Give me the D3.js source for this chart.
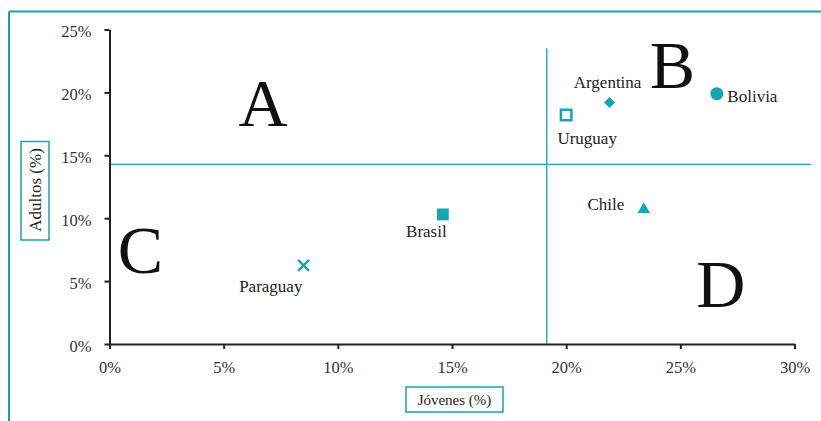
<!doctype html>
<html lang="es">
<head>
<meta charset="utf-8">
<title>Jóvenes y adultos</title>
<style>
  body { margin: 0; background: white; }
  svg { display: block; background: white; }
  svg text { font-family: "Liberation Serif", "Times New Roman", serif; }
  .axis path, .axis line { stroke: #222; stroke-width: 2px; fill: none; }
  .axis text { font-size: 16.5px; fill: #333; }
  .quad { stroke: #1aa3b0; stroke-width: 1.3px; }
  .lbl { font-size: 17px; fill: #222; }
  .big { font-size: 68px; fill: #111; text-anchor: middle; }
  .title-box { fill: none; stroke: #1aa3b0; stroke-width: 1.5px; }
  .title { fill: #222; text-anchor: middle; }
</style>
</head>
<body>
<script src="https://cdnjs.cloudflare.com/ajax/libs/d3/7.8.5/d3.min.js"></script>
<script>
// data
var countries = ["Argentina", "Bolivia", "Uruguay", "Chile", "Brasil", "Paraguay"];
var jovenes   = [21.9, 26.6, 20.0, 23.4, 14.6, 8.5];
var adultos   = [19.2, 19.9, 18.2, 10.7, 10.3, 6.25];
var shapes    = ["diamond", "circle", "hollow", "triangle", "square", "x"];
var xTicks = [0, 5, 10, 15, 20, 25, 30];
var yTicks = [0, 5, 10, 15, 20, 25];
var cutJovenes = 19.15;
var cutAdultos = 14.28;
var quadrants = ["A", "B", "C", "D"];
var quadX = [6.72, 24.65, 1.36, 26.77];
var quadY = [17.33, 20.33, 5.64, 2.97];

var W = 821, H = 421;
var teal = "#1aa3b0";
var serif = "'Liberation Serif', 'Times New Roman', serif";

var svg = d3.select("body").append("svg").attr("width", W).attr("height", H)
  .attr("font-family", serif);

// outer frame (top + left only)
svg.append("line").attr("x1", 9).attr("x2", W).attr("y1", 11.5).attr("y2", 11.5)
  .attr("stroke", teal).attr("stroke-width", 2);
svg.append("line").attr("x1", 9).attr("x2", 9).attr("y1", 11.5).attr("y2", H)
  .attr("stroke", teal).attr("stroke-width", 2);

var x = d3.scaleLinear().domain([0, 30]).range([109.5, 794.5]);
var y = d3.scaleLinear().domain([0, 25]).range([344, 29.5]);

// quadrant lines
svg.append("line").attr("class", "quad")
  .attr("x1", x(0)).attr("x2", x(30.73)).attr("y1", y(cutAdultos)).attr("y2", y(cutAdultos));
svg.append("line").attr("class", "quad")
  .attr("x1", x(cutJovenes)).attr("x2", x(cutJovenes)).attr("y1", y(23.5)).attr("y2", y(0));

// axes
var xAxis = d3.axisBottom(x).tickValues(xTicks).tickFormat(function(d){ return d + "%"; })
  .tickSizeOuter(0).tickSizeInner(5).tickPadding(12);
var yAxis = d3.axisLeft(y).tickValues(yTicks).tickFormat(function(d){ return d + "%"; })
  .tickSizeOuter(0).tickSizeInner(5).tickPadding(13);

svg.append("g").attr("class", "x axis").attr("transform", "translate(0," + y(0) + ")").call(xAxis)
  .attr("font-family", serif).attr("font-size", null);
svg.append("g").attr("class", "y axis").attr("transform", "translate(" + x(0) + ",0)").call(yAxis)
  .attr("font-family", serif).attr("font-size", null);
svg.selectAll(".y.axis text").attr("dy", "0.45em");

// big letters
svg.selectAll("text.big").data(quadrants).enter().append("text")
  .attr("class", "big")
  .attr("x", function(d, i){ return x(quadX[i]); })
  .attr("y", function(d, i){ return y(quadY[i]); })
  .text(function(d){ return d; });

// markers
var pts = countries.map(function(c, i){
  return { name: c, jov: jovenes[i], adu: adultos[i], shape: shapes[i] };
});

var g = svg.selectAll("g.pt").data(pts).enter().append("g")
  .attr("class", "pt")
  .attr("transform", function(d){ return "translate(" + x(d.jov) + "," + y(d.adu) + ")"; });

g.each(function(d){
  var s = d3.select(this);
  if (d.shape === "circle") {
    s.append("circle").attr("r", 6.5).attr("fill", teal);
  } else if (d.shape === "diamond") {
    s.append("path").attr("d", d3.symbol(d3.symbolSquare, 62)()).attr("transform", "rotate(45)").attr("fill", teal);
  } else if (d.shape === "square") {
    s.append("path").attr("d", d3.symbol(d3.symbolSquare, 140)()).attr("fill", teal);
  } else if (d.shape === "hollow") {
    s.append("path").attr("d", d3.symbol(d3.symbolSquare, 110)()).attr("fill", "white")
      .attr("stroke", teal).attr("stroke-width", 2.5);
  } else if (d.shape === "triangle") {
    s.append("path").attr("d", d3.symbol(d3.symbolTriangle, 68)()).attr("fill", teal);
  } else if (d.shape === "x") {
    s.append("path").attr("d", "M-5.5,-5.5L5.5,5.5M-5.5,5.5L5.5,-5.5")
      .attr("stroke", teal).attr("stroke-width", 2.4).attr("fill", "none");
  }
});

// point labels
var labelPos = {
  Argentina: [-2, -14, "middle"],
  Bolivia:   [10.5, 8.5, "start"],
  Uruguay:   [21, 28.5, "middle"],
  Chile:     [-38, 1, "middle"],
  Brasil:    [-16.5, 22.7, "middle"],
  Paraguay:  [-32.8, 26.4, "middle"]
};
g.append("text").attr("class", "lbl")
  .attr("x", function(d){ return labelPos[d.name][0]; })
  .attr("y", function(d){ return labelPos[d.name][1]; })
  .attr("text-anchor", function(d){ return labelPos[d.name][2]; })
  .text(function(d){ return d.name; });

// axis titles in boxes
svg.append("rect").attr("class", "title-box").attr("x", 406).attr("y", 387).attr("width", 97).attr("height", 25);
svg.append("text").attr("class", "title").attr("x", 454.5).attr("y", 404.5)
  .style("font-size", "15px").text("Jóvenes (%)");

svg.append("rect").attr("class", "title-box").attr("x", 21).attr("y", 141.5).attr("width", 28).attr("height", 98.5);
svg.append("text").attr("class", "title")
  .attr("transform", "translate(41,190) rotate(-90)")
  .style("font-size", "17px")
  .text("Adultos (%)");
</script>
</body>
</html>
